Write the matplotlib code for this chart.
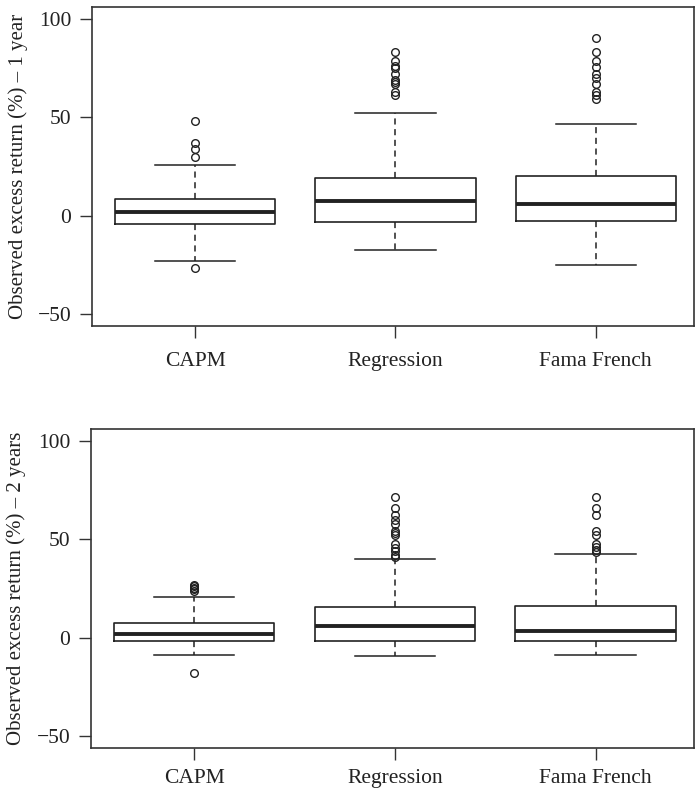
import matplotlib
matplotlib.use('Agg')
import matplotlib.pyplot as plt

# model names on the x axis
models = ['CAPM', 'Regression', 'Fama French']

# 1 year horizon: box stats
y1_whislo = [-22.9, -17.5, -24.9]
y1_q1 = [-4.1, -3.4, -2.7]
y1_med = [1.9, 7.5, 6.1]
y1_q3 = [8.5, 19.3, 20.0]
y1_whishi = [25.6, 52.2, 46.3]
y1_fliers = [
    [48.0, 36.8, 33.9, 29.8, -26.6],
    [82.9, 78.5, 75.9, 75.0, 71.9, 69.0, 68.0, 66.6, 62.5, 61.4],
    [90.3, 82.9, 78.6, 75.4, 71.7, 69.8, 66.6, 62.5, 61.0, 59.2],
]

# 2 year horizon
y2_whislo = [-8.8, -9.5, -8.8]
y2_q1 = [-1.5, -1.5, -1.5]
y2_med = [1.9, 6.1, 3.2]
y2_q3 = [7.3, 15.4, 16.0]
y2_whishi = [20.7, 40.2, 42.3]
y2_fliers = [
    [27.0, 26.2, 25.4, 24.6, 23.8, -18.0],
    [71.5, 66.1, 62.2, 60.1, 57.9, 54.5, 53.1, 52.0, 47.4, 45.5, 44.0, 42.1, 40.9],
    [71.5, 66.1, 62.2, 54.3, 52.0, 47.7, 46.0, 44.8, 43.5],
]

ylabels = ['Observed excess return (%) \u2013 1 year',
           'Observed excess return (%) \u2013 2 years']

plt.rcParams['font.family'] = ['Liberation Serif', 'DejaVu Serif']
plt.rcParams['font.size'] = 15.5

ink = '#222222'


def make_stats(whislo, q1, med, q3, whishi, fliers):
    stats = []
    for i in range(len(models)):
        stats.append({'whislo': whislo[i], 'q1': q1[i], 'med': med[i],
                      'q3': q3[i], 'whishi': whishi[i], 'fliers': fliers[i],
                      'label': models[i]})
    return stats


def draw_panel(ax, stats, ylabel, xpad):
    ax.bxp(stats, positions=[1, 2, 3], widths=0.8, showfliers=True,
           boxprops=dict(color=ink, linewidth=1.2),
           medianprops=dict(color=ink, linewidth=2.8, solid_capstyle='butt'),
           whiskerprops=dict(color=ink, linewidth=1.1, linestyle=(0, (4, 3))),
           capprops=dict(color=ink, linewidth=1.1),
           capwidths=0.4,
           flierprops=dict(marker='o', markersize=5.5, markerfacecolor='none',
                           markeredgecolor=ink, markeredgewidth=1.0))
    ax.set_xlim(0.485, 3.49)
    ax.set_ylim(-56, 106)
    ax.set_yticks([-50, 0, 50, 100])
    ax.set_yticklabels(['\u221250', '0', '50', '100'])
    ax.set_xticks([1, 2, 3])
    ax.set_xticklabels(models)
    ax.tick_params(axis='both', direction='out', length=8.8, width=1.0,
                   color='#333333', labelcolor=ink)
    ax.tick_params(axis='y', pad=6)
    ax.tick_params(axis='x', pad=xpad)
    for s in ax.spines.values():
        s.set_color('#333333')
        s.set_linewidth(1.2)
    ax.set_ylabel(ylabel, color=ink, va='center', fontsize=15)
    ax.yaxis.set_label_coords(-0.123, 0.5)


fig = plt.figure(figsize=(6.95, 7.91), dpi=100)
ax1 = fig.add_axes([0.1324, 0.5879, 0.866, 0.4036])
ax2 = fig.add_axes([0.1305, 0.0547, 0.868, 0.4026])

draw_panel(ax1, make_stats(y1_whislo, y1_q1, y1_med, y1_q3, y1_whishi, y1_fliers), ylabels[0], 10)
draw_panel(ax2, make_stats(y2_whislo, y2_q1, y2_med, y2_q3, y2_whishi, y2_fliers), ylabels[1], 6.5)

fig.savefig('out.png', dpi=100)
